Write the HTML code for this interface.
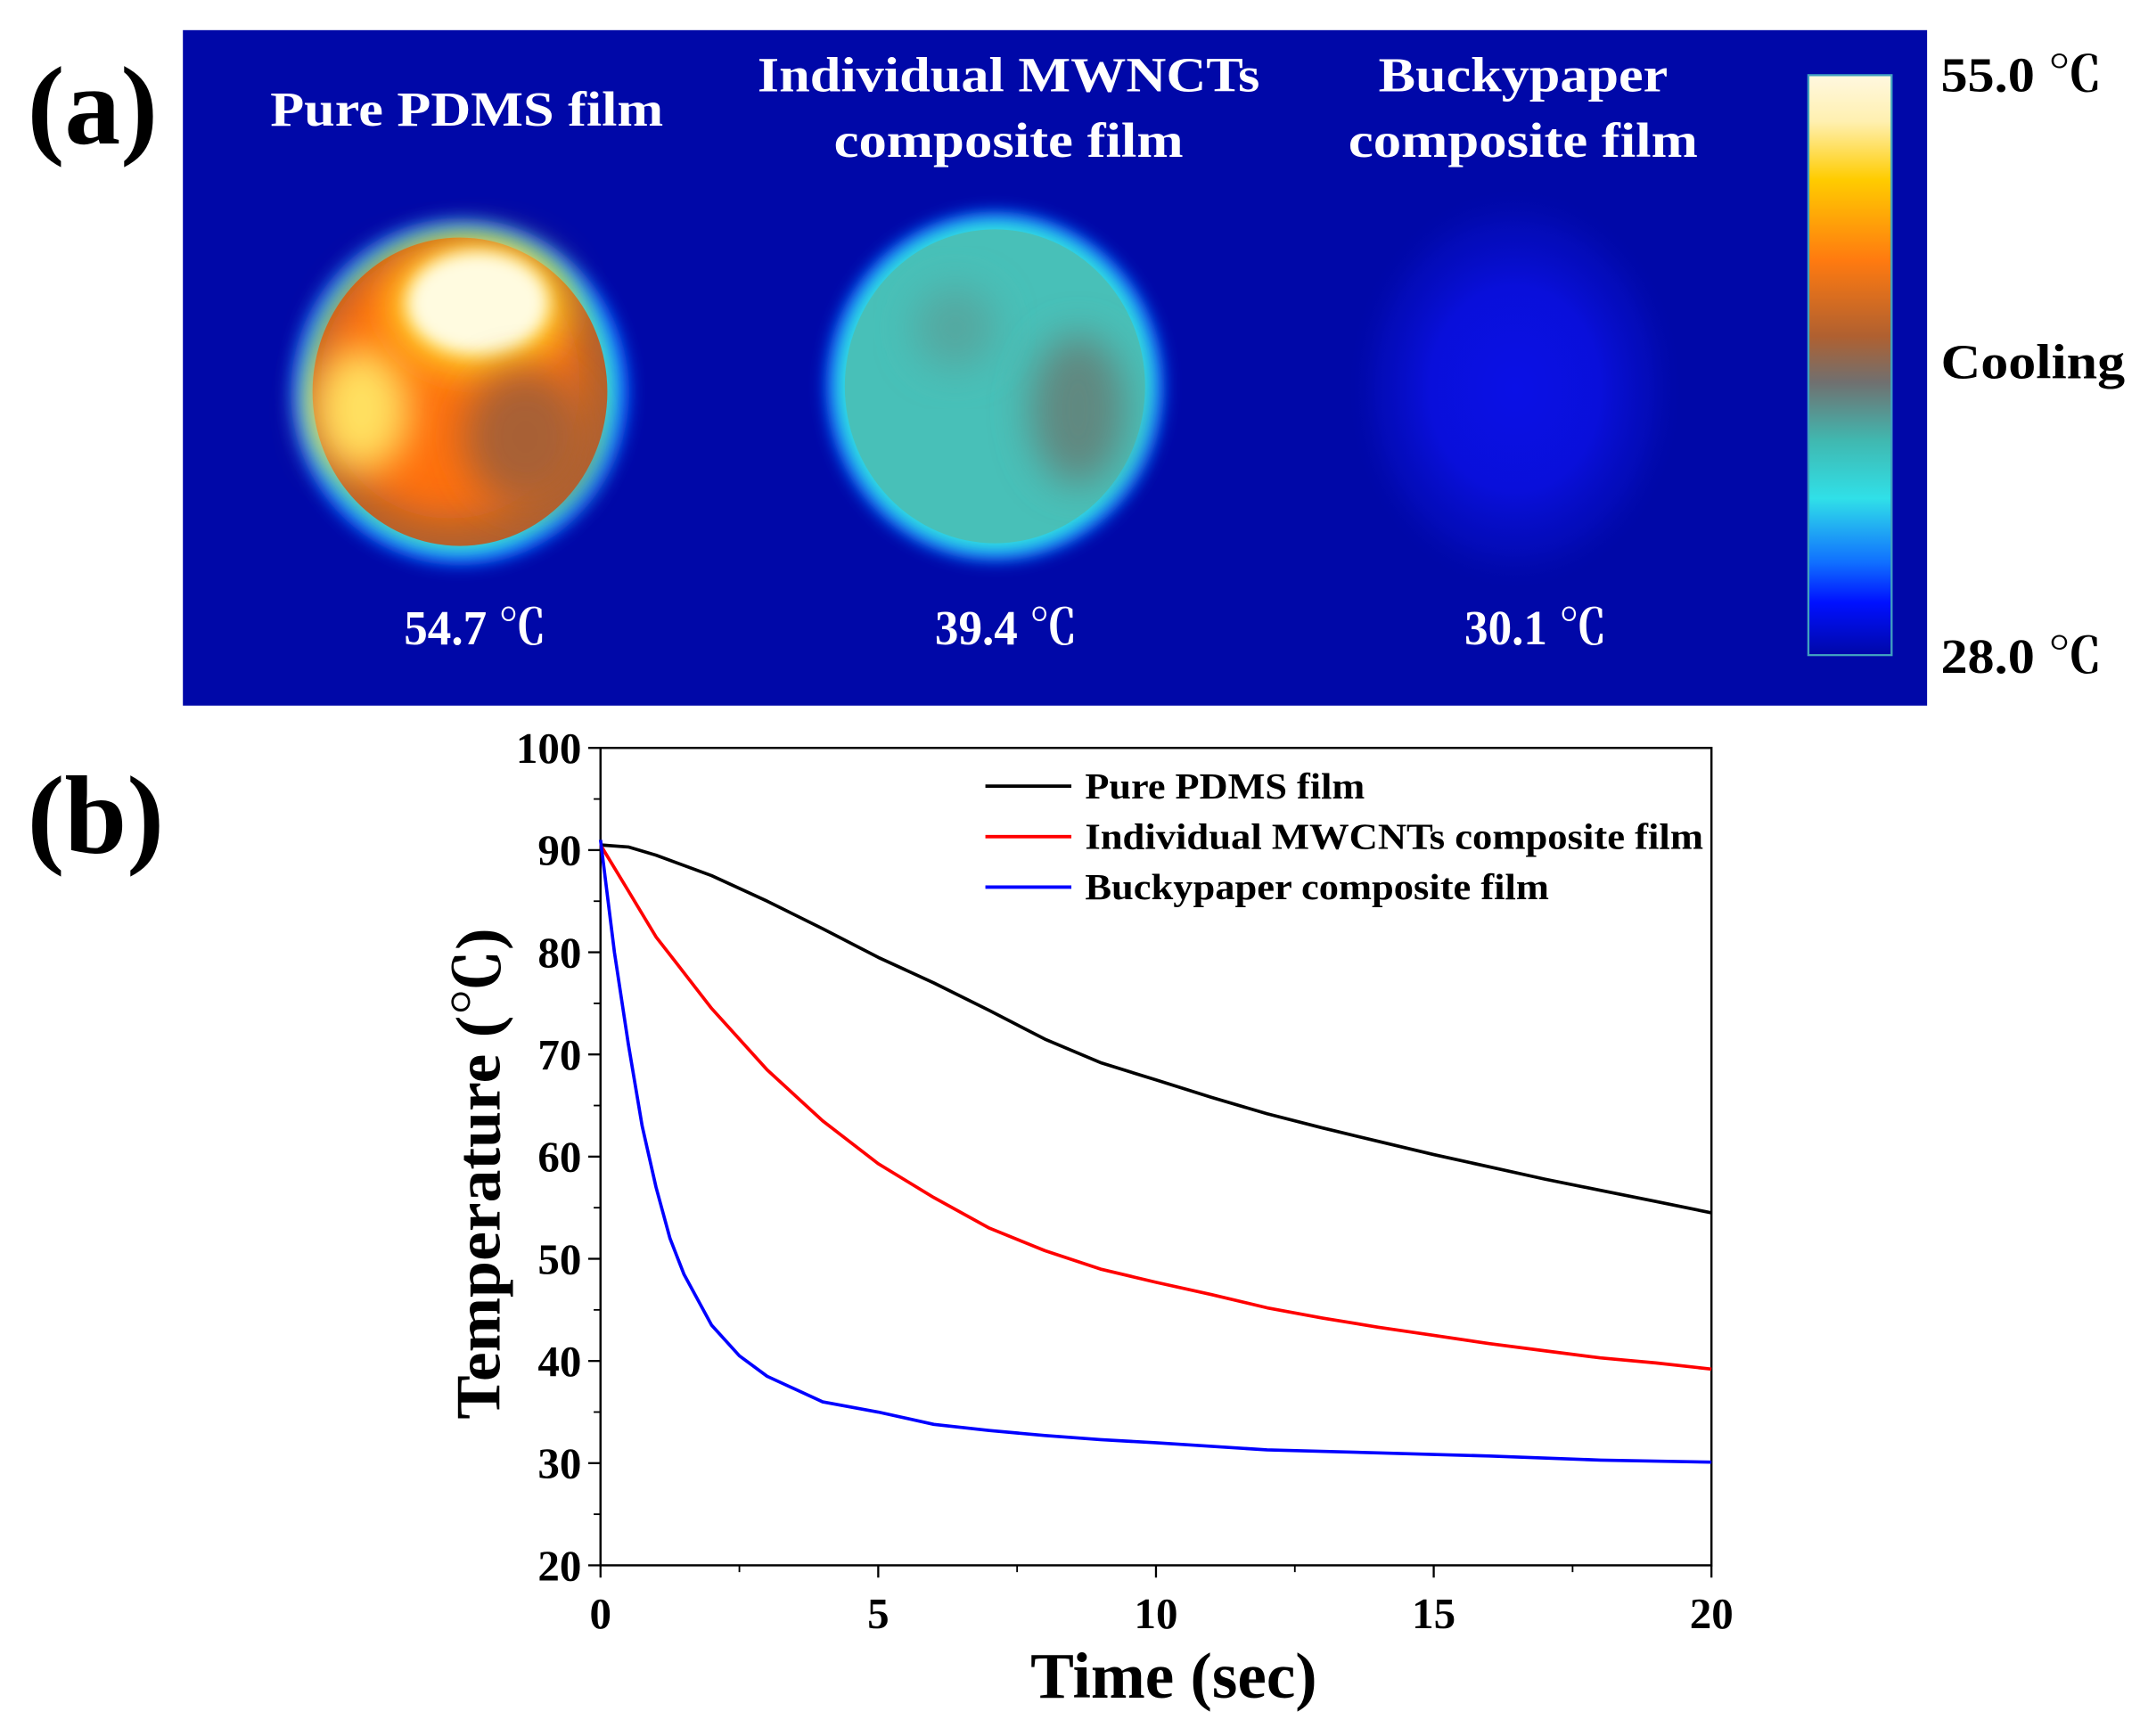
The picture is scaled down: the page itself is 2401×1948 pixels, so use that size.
<!DOCTYPE html>
<html><head><meta charset="utf-8"><style>
html,body{margin:0;padding:0;background:#fff;}
svg{display:block;}
text{font-family:"Liberation Serif","Noto Serif CJK SC",serif;font-weight:bold;}
</style></head><body>
<svg id="fig" width="2401" height="1948" viewBox="0 0 1568 1272" xmlns="http://www.w3.org/2000/svg">
<defs>
<filter id="blur6" x="-30%" y="-30%" width="160%" height="160%"><feGaussianBlur stdDeviation="6"/></filter>
<filter id="blur14" x="-50%" y="-50%" width="200%" height="200%"><feGaussianBlur stdDeviation="14"/></filter>
<linearGradient id="cbar" x1="0" y1="0" x2="0" y2="1">
<stop offset="0" stop-color="#fff8e0"/><stop offset="0.08" stop-color="#fff0b0"/>
<stop offset="0.18" stop-color="#ffcc00"/><stop offset="0.32" stop-color="#ff7a10"/>
<stop offset="0.45" stop-color="#b06030"/><stop offset="0.53" stop-color="#707070"/>
<stop offset="0.63" stop-color="#40b8b0"/><stop offset="0.73" stop-color="#30e0e8"/>
<stop offset="0.84" stop-color="#1070ff"/><stop offset="0.91" stop-color="#0010ff"/>
<stop offset="1" stop-color="#0008a8"/>
</linearGradient>
<radialGradient id="buck" cx="0.5" cy="0.5" r="0.5">
<stop offset="0" stop-color="#0a10e6" stop-opacity="1"/>
<stop offset="0.5" stop-color="#0a10e0" stop-opacity="0.9"/>
<stop offset="0.8" stop-color="#0810d0" stop-opacity="0.4"/>
<stop offset="1" stop-color="#0008a8" stop-opacity="0"/>
</radialGradient>
</defs>

<!-- Panel a -->
<text x="20" y="105" font-size="82" fill="#000">(a)</text>
<rect x="134" y="22" width="1278" height="495" fill="#0008a8"/>
<g>
<ellipse cx="337" cy="287" rx="124" ry="127" fill="#1060ff" filter="url(#blur6)"/>
<ellipse cx="337" cy="287" rx="115" ry="119" fill="#30e0e0" filter="url(#blur6)"/>
<ellipse cx="337" cy="287" rx="108" ry="113" fill="#b06030"/>
<ellipse cx="330" cy="280" rx="95" ry="100" fill="#ff7010" filter="url(#blur14)"/>
<ellipse cx="265" cy="300" rx="35" ry="45" fill="#ffe060" filter="url(#blur14)"/>
<ellipse cx="350" cy="225" rx="65" ry="48" fill="#ffd020" filter="url(#blur14)"/>
<ellipse cx="350" cy="222" rx="52" ry="38" fill="#fffbe0" filter="url(#blur6)"/>
<ellipse cx="385" cy="320" rx="45" ry="50" fill="#a86035" filter="url(#blur14)"/>
</g>
<g>
<ellipse cx="729" cy="283" rx="124" ry="128" fill="#1060ff" filter="url(#blur6)"/>
<ellipse cx="729" cy="283" rx="117" ry="122" fill="#30e0e0" filter="url(#blur6)"/>
<ellipse cx="729" cy="283" rx="110" ry="115" fill="#48c0b8"/>
<ellipse cx="790" cy="300" rx="35" ry="55" fill="#608880" filter="url(#blur14)"/>
<ellipse cx="700" cy="240" rx="30" ry="30" fill="#55a8a0" filter="url(#blur14)"/>
</g>
<ellipse cx="1110" cy="285" rx="125" ry="150" fill="url(#buck)"/>
<g fill="#fff" font-size="36" text-anchor="middle">
<text x="342" y="92" textLength="288" lengthAdjust="spacingAndGlyphs">Pure PDMS film</text>
<text x="739" y="67" textLength="368" lengthAdjust="spacingAndGlyphs">Individual MWNCTs</text>
<text x="739" y="115" textLength="256" lengthAdjust="spacingAndGlyphs">composite film</text>
<text x="1116" y="67" textLength="212" lengthAdjust="spacingAndGlyphs">Buckypaper</text>
<text x="1116" y="115" textLength="256" lengthAdjust="spacingAndGlyphs">composite film</text>
<text x="348" y="472" textLength="104" lengthAdjust="spacingAndGlyphs">54.7 ℃</text>
<text x="737" y="472" textLength="104" lengthAdjust="spacingAndGlyphs">39.4 ℃</text>
<text x="1125" y="472" textLength="104" lengthAdjust="spacingAndGlyphs">30.1 ℃</text>
</g>
<rect x="1325" y="55" width="61" height="425" fill="url(#cbar)" stroke="#40a0c0" stroke-width="1.5"/>
<g fill="#000" font-size="36">
<text x="1422" y="67" textLength="118" lengthAdjust="spacingAndGlyphs">55.0 ℃</text>
<text x="1422" y="277" textLength="135" lengthAdjust="spacingAndGlyphs">Cooling</text>
<text x="1422" y="493" textLength="118" lengthAdjust="spacingAndGlyphs">28.0 ℃</text>
</g>

<!-- Panel b -->
<text x="20" y="625" font-size="82" fill="#000">(b)</text>
<g id="plot"></g>
</svg>
<script>
const xTicks = [0, 5, 10, 15, 20];
const yTicks = [20, 30, 40, 50, 60, 70, 80, 90, 100];
const seriesNames = ["Pure PDMS film", "Individual MWCNTs composite film", "Buckypaper composite film"];
const seriesColors = ["#000000", "#ff0000", "#0000ff"];
const pdmsT = [0, 0.5, 1, 2, 3, 4, 5, 6, 7, 8, 9, 10, 11, 12, 13, 14, 15, 16, 17, 18, 19, 20];
const pdmsV = [90.5, 90.3, 89.5, 87.5, 85, 82.3, 79.5, 77, 74.3, 71.5, 69.2, 67.5, 65.8, 64.2, 62.8, 61.5, 60.2, 59, 57.8, 56.7, 55.6, 54.5];
const mwcntT = [0, 0.5, 1, 1.5, 2, 3, 4, 5, 6, 7, 8, 9, 10, 11, 12, 13, 14, 15, 16, 17, 18, 19, 20];
const mwcntV = [90.5, 86, 81.5, 78, 74.5, 68.5, 63.5, 59.3, 56, 53, 50.8, 49, 47.7, 46.5, 45.2, 44.2, 43.3, 42.5, 41.7, 41, 40.3, 39.8, 39.2];
const buckyT = [0, 0.25, 0.5, 0.75, 1, 1.25, 1.5, 2, 2.5, 3, 4, 5, 6, 7, 8, 9, 10, 12, 14, 16, 18, 20];
const buckyV = [91, 80, 71, 63, 57, 52, 48.5, 43.5, 40.5, 38.5, 36, 35, 33.8, 33.2, 32.7, 32.3, 32, 31.3, 31, 30.7, 30.3, 30.1];

const NS = "http://www.w3.org/2000/svg";
const g = document.getElementById('plot');
const L = 440, R = 1254, T = 548, B = 1147;
const xMin = 0, xMax = 20, yMin = 20, yMax = 100;
function sx(v){ return L + (v - xMin) / (xMax - xMin) * (R - L); }
function sy(v){ return B - (v - yMin) / (yMax - yMin) * (B - T); }
function mk(tag, attrs){ const e = document.createElementNS(NS, tag); for (const k in attrs) e.setAttribute(k, attrs[k]); g.appendChild(e); return e; }

const frame = mk('rect', {x:L, y:T, width:R-L, height:B-T, fill:'none', stroke:'#000', 'stroke-width':1.6});



xTicks.forEach(v => {
  const t = mk('line', {x1:sx(v), x2:sx(v), y1:B, y2:B+9, stroke:'#000', 'stroke-width':1.5});
  
  
  const lb = mk('text', {x:sx(v), y:B+46, 'font-size':32, 'text-anchor':'middle', fill:'#000'});
  lb.textContent = v;
  
  
});
for (let i = 0; i < xTicks.length - 1; i++) {
  const m = (xTicks[i] + xTicks[i+1]) / 2;
  const t = mk('line', {x1:sx(m), x2:sx(m), y1:B, y2:B+5, stroke:'#000', 'stroke-width':1.2});
  
  
}
yTicks.forEach(v => {
  const t = mk('line', {x1:L-9, x2:L, y1:sy(v), y2:sy(v), stroke:'#000', 'stroke-width':1.5});
  
  
  const lb = mk('text', {x:L-14, y:sy(v)+11, 'font-size':32, 'text-anchor':'end', fill:'#000'});
  lb.textContent = v;
  
  
});
for (let i = 0; i < yTicks.length - 1; i++) {
  const m = (yTicks[i] + yTicks[i+1]) / 2;
  const t = mk('line', {x1:L-5, x2:L, y1:sy(m), y2:sy(m), stroke:'#000', 'stroke-width':1.2});
  
  
}

const xt = mk('text', {x:860, y:1244, 'font-size':48, 'text-anchor':'middle', fill:'#000', textLength:210, lengthAdjust:'spacingAndGlyphs'});
xt.textContent = 'Time (sec)';


const yt = mk('text', {x:0, y:0, 'font-size':46, 'text-anchor':'middle', fill:'#000', transform:'translate(366,860) rotate(-90)', textLength:360, lengthAdjust:'spacingAndGlyphs'});
yt.textContent = 'Temperature (℃)';



const allT = [pdmsT, mwcntT, buckyT];
const allV = [pdmsV, mwcntV, buckyV];
const lineNames = ['pdms-line', 'mwcnt-line', 'buckypaper-line'];
for (let s = 0; s < 3; s++) {
  const pts = allT[s].map((t, i) => sx(t).toFixed(1) + ',' + sy(allV[s][i]).toFixed(1)).join(' ');
  const pl = mk('polyline', {points:pts, fill:'none', stroke:seriesColors[s], 'stroke-width':2.4, 'stroke-linejoin':'round'});
  
  
}
const legendWidths = [205, 453, 340];
for (let s = 0; s < 3; s++) {
  const y = 576 + s * 37;
  const ln = mk('line', {x1:722, x2:785, y1:y, y2:y, stroke:seriesColors[s], 'stroke-width':2.5});
  
  
  const tx = mk('text', {x:795, y:y+9, 'font-size':27, fill:'#000', textLength:legendWidths[s], lengthAdjust:'spacingAndGlyphs'});
  tx.textContent = seriesNames[s];
  
  
}
</script>
</body></html>
